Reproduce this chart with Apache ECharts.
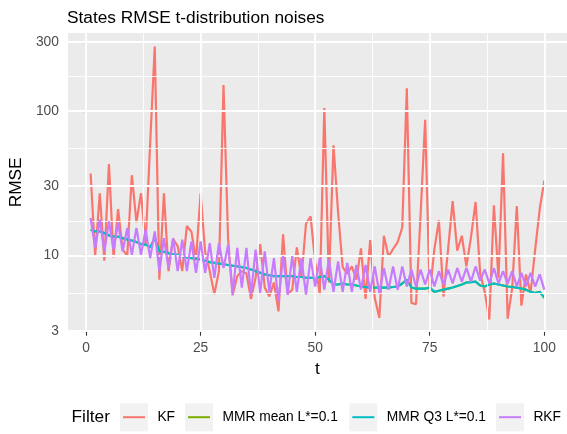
<!DOCTYPE html>
<html>
<head>
<meta charset="UTF-8">
<title>States RMSE t-distribution noises</title>
<script src="https://cdn.jsdelivr.net/npm/echarts@6/dist/echarts.min.js"></script>
<style>
  html, body { margin: 0; padding: 0; background: #fff; }
  #main { width: 567px; height: 434px; }
</style>
</head>
<body>
<div id="main"></div>
<script>
    // RMSE per time step t = 1..100
    let kf = [37, 10, 27, 9.2, 43, 9.7, 21, 11, 10, 36,
        17, 27, 12, 60, 280, 6.8, 27, 7.8, 13, 11.6,
        7.8, 16, 14.6, 9.3, 27, 10.5, 7.8, 5.4, 7.8, 152,
        13, 5.3, 7.2, 7.8, 7.5, 5.0, 7.0, 12, 6.0, 5.2,
        6.5, 4.1, 14, 5.4, 5.8, 11.4, 7.0, 16.6, 18.7, 9.0,
        5.4, 105, 6.5, 58, 20, 8.3, 7.5, 8.4, 6.8, 11.2,
        5.0, 12.8, 5.1, 3.7, 13.7, 9.8, 11.1, 12.4, 15.6, 144,
        4.7, 4.6, 19, 87, 5.4, 11, 17.5, 5.2, 11, 23.8,
        10.8, 13.7, 8.4, 13.4, 23.5, 7.5, 5.6, 3.6, 22.3, 7,
        51, 3.65, 6, 22, 4.5, 7.4, 5.5, 11, 21, 33];

    let mmrQ3 = [15.1, 14.7, 14.7, 14.3, 13.8, 13.5, 13.5, 13.2, 12.9, 12.7,
        12.4, 12.0, 11.9, 11.4, 13.2, 10.7, 10.6, 10.4, 10.2, 10.1,
        9.9, 9.7, 9.6, 9.5, 9.4, 9.2, 9.0, 8.9, 8.8, 8.7,
        8.6, 8.5, 8.4, 8.3, 8.2, 8.0, 7.8, 7.6, 7.4, 7.3,
        7.2, 7.2, 7.2, 7.2, 7.2, 7.1, 7.1, 7.0, 7.0, 7.0,
        7.1, 7.2, 6.8, 6.3, 6.3, 6.4, 6.3, 6.3, 6.2, 6.1,
        6.05, 6.0, 6.0, 6.0, 6.0, 6.0, 6.05, 6.1, 6.4, 6.8,
        6.0, 5.9, 5.9, 5.9, 6.0, 5.6, 5.7, 5.8, 5.9, 6.0,
        6.15, 6.3, 6.5, 6.55, 6.6, 6.2, 6.1, 6.3, 6.4, 6.3,
        6.2, 6.1, 6.05, 6.0, 5.9, 5.8, 5.6, 5.5, 5.6, 5.1];

    // the mean variant sits right under the Q3 line in the picture
    let mmrMean = mmrQ3.slice();

    let rkf = [18.2, 11.3, 17.7, 10.7, 17.2, 11.0, 16.8, 10.7, 15.5, 10.1,
        15.5, 10.1, 15.1, 9.6, 14.7, 7.8, 13.2, 8.2, 13.2, 7.8,
        12.9, 7.8, 12.5, 7.6, 12.5, 7.6, 12.2, 7.0, 12.2, 8.2,
        11.9, 5.35, 11.3, 6.0, 11.3, 5.35, 11.0, 5.5, 10.7, 5.6,
        9.6, 4.8, 9.9, 5.35, 9.9, 5.6, 9.6, 5.35, 9.6, 6.1,
        9.6, 5.8, 9.4, 5.6, 9.1, 5.6, 8.9, 5.6, 8.6, 5.8,
        8.6, 5.6, 8.4, 5.5, 8.2, 5.8, 8.4, 5.8, 8.4, 6.1,
        8.0, 6.1, 8.0, 6.3, 8.0, 6.1, 7.8, 6.3, 8.0, 6.4,
        8.2, 6.6, 8.2, 6.6, 8.4, 6.7, 8.0, 6.4, 8.2, 6.4,
        7.8, 6.4, 7.8, 6.1, 7.6, 6.1, 7.6, 6.1, 7.4, 5.8];

    let filters = ['KF', 'MMR mean L*=0.1', 'MMR Q3 L*=0.1', 'RKF'];
    let colors = ['#F8766D', '#7CAE00', '#00BFC4', '#C77CFF'];
    let values = [kf, mmrMean, mmrQ3, rkf];

    let xTicks = [0, 25, 50, 75, 100];
    let xMinor = [12.5, 37.5, 62.5, 87.5];
    let yTicks = [3, 10, 30, 100, 300];

    // y is drawn on log10 scale like scale_y_log10
    let lg = v => Math.log10(v);
    let yTickPos = yTicks.map(lg);
    let yMinorPos = [];
    for (let i = 0; i < yTickPos.length - 1; i++) {
        yMinorPos.push((yTickPos[i] + yTickPos[i + 1]) / 2);
    }

    let font = "'Liberation Sans', Arial, sans-serif";
    let chart = echarts.init(document.getElementById('main'), null, {renderer: 'canvas'});

    let gridLines = [];
    xMinor.forEach(v => gridLines.push({xAxis: v, lineStyle: {width: 0.9}}));
    yMinorPos.forEach(v => gridLines.push({yAxis: v, lineStyle: {width: 0.9}}));
    xTicks.forEach(v => gridLines.push({xAxis: v, lineStyle: {width: 1.8}}));
    yTickPos.forEach(v => gridLines.push({yAxis: v, lineStyle: {width: 1.8}}));

    let series = [{
        name: 'grid',
        type: 'line',
        data: [],
        z: 1,
        silent: true,
        markLine: {
            silent: true,
            symbol: ['none', 'none'],
            label: {show: false},
            lineStyle: {color: '#ffffff', type: 'solid'},
            emphasis: {disabled: true},
            animation: false,
            data: gridLines
        }
    }];

    filters.forEach((name, i) => {
        series.push({
            name: name,
            type: 'line',
            z: 2 + i,
            data: values[i].map((v, k) => [k + 1, lg(v)]),
            showSymbol: false,
            symbol: 'none',
            lineStyle: {color: colors[i], width: 2.2},
            itemStyle: {color: colors[i]},
            emphasis: {disabled: true}
        });
    });

    // one legend per key so each sits in its own grey box
    let keyLeft = [120, 185, 349.3, 496];
    let legends = filters.map((name, i) => ({
        data: [name],
        left: keyLeft[i] + 3,
        top: 409.2,
        padding: 0,
        icon: 'rect',
        itemWidth: 22,
        itemHeight: 2,
        selectedMode: false,
        z: 5,
        textStyle: {fontSize: 13.8, fontFamily: font, color: '#000', lineHeight: 16, padding: [0, 0, 0, 7.4]}
    }));

    let option = {
        animation: false,
        backgroundColor: '#ffffff',
        title: {
            text: 'States RMSE t-distribution noises',
            left: 62,
            top: 5,
            textStyle: {fontSize: 17.3, fontWeight: 'normal', color: '#000', fontFamily: font}
        },
        grid: {
            left: 62.5, top: 33, width: 508.6, height: 298.7,
            show: true, backgroundColor: '#EBEBEB', borderWidth: 0
        },
        xAxis: {
            type: 'value',
            min: -3.95, max: 104.95,
            name: 't',
            nameLocation: 'middle',
            nameGap: 29,
            nameTextStyle: {fontSize: 17.3, color: '#000', fontFamily: font},
            axisLine: {show: false},
            splitLine: {show: false},
            axisTick: {show: true, customValues: xTicks, length: 4, lineStyle: {color: '#333333', width: 1.1}},
            axisLabel: {customValues: xTicks, margin: 9, fontSize: 13.8, color: '#4D4D4D', fontFamily: font}
        },
        yAxis: {
            type: 'value',
            min: 0.4723, max: 2.5415,
            name: 'RMSE',
            nameLocation: 'middle',
            nameRotate: 90,
            nameGap: 32,
            nameTextStyle: {fontSize: 17.3, color: '#000', fontFamily: font},
            axisLine: {show: false},
            splitLine: {show: false},
            axisTick: {show: true, customValues: yTickPos, length: 4, lineStyle: {color: '#333333', width: 1.1}},
            axisLabel: {
                customValues: yTickPos, margin: 9, fontSize: 13.8, color: '#4D4D4D', fontFamily: font,
                formatter: v => String(Math.round(Math.pow(10, v)))
            }
        },
        legend: legends,
        graphic: [
            {type: 'text', left: 71.5, top: 409, z: 5,
                style: {text: 'Filter', fontSize: 17.3, fontFamily: font, fill: '#000'}}
        ].concat(keyLeft.map(x => ({
            type: 'rect', left: x, top: 403.3, z: 0,
            shape: {width: 28, height: 28},
            style: {fill: '#F2F2F2'}
        }))),
        series: series
    };

    chart.setOption(option);
</script>
</body>
</html>
